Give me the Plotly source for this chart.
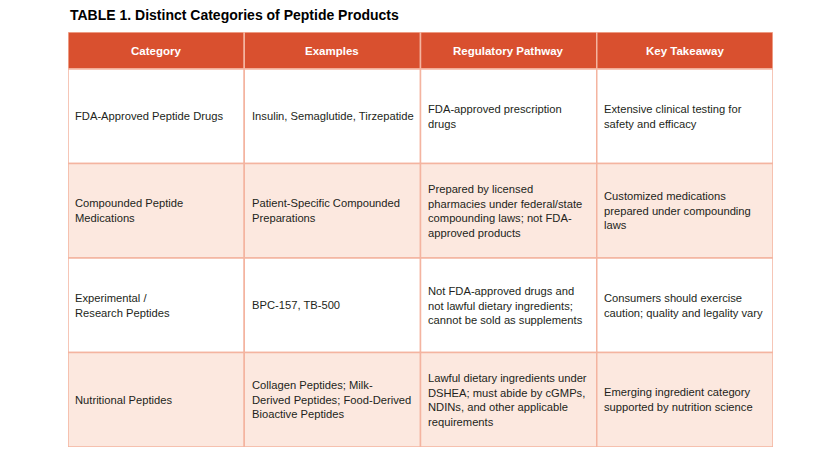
import plotly.graph_objects as go

#%% Datos de la tabla
headers = ["Category", "Examples", "Regulatory Pathway", "Key Takeaway"]

categories = [
    "FDA-Approved Peptide Drugs",
    "Compounded Peptide<br>Medications",
    "Experimental /<br>Research Peptides",
    "Nutritional Peptides",
]
examples = [
    "Insulin, Semaglutide, Tirzepatide",
    "Patient-Specific Compounded<br>Preparations",
    "BPC-157, TB-500",
    "Collagen Peptides; Milk-<br>Derived Peptides; Food-Derived<br>Bioactive Peptides",
]
pathways = [
    "FDA-approved prescription<br>drugs",
    "Prepared by licensed<br>pharmacies under federal/state<br>compounding laws; not FDA-<br>approved products",
    "Not FDA-approved drugs and<br>not lawful dietary ingredients;<br>cannot be sold as supplements",
    "Lawful dietary ingredients under<br>DSHEA; must abide by cGMPs,<br>NDINs, and other applicable<br>requirements",
]
takeaways = [
    "Extensive clinical testing for<br>safety and efficacy",
    "Customized medications<br>prepared under compounding<br>laws",
    "Consumers should exercise<br>caution; quality and legality vary",
    "Emerging ingredient category<br>supported by nutrition science",
]

columns = [categories, examples, pathways, takeaways]

#%% Estilos
HEAD_COLOR = "#D9502F"
ALT_COLOR = "#FCE8DF"
LINE_COLOR = "#F4B4A0"
TEXT_COLOR = "#231F20"
FONT = "Liberation Sans, Arial, sans-serif"

n_rows = len(categories)
n_cols = len(headers)
row_h = 94.5
head_h = 37
total_h = n_rows * row_h + head_h

fig = go.Figure()

# encabezado
for j, h in enumerate(headers):
    fig.add_shape(type="rect", x0=j, x1=j + 1, y0=total_h - head_h, y1=total_h,
                  fillcolor=HEAD_COLOR, line=dict(color=LINE_COLOR, width=1.5), layer="below")
    fig.add_annotation(x=j + 0.5, y=total_h - head_h / 2, text=f"<b>{h}</b>",
                       showarrow=False, xanchor="center", yanchor="middle",
                       font=dict(family=FONT, size=11.5, color="white"))

# filas
for i in range(n_rows):
    y1 = total_h - head_h - i * row_h
    y0 = y1 - row_h
    fill = ALT_COLOR if i % 2 == 1 else "white"
    for j in range(n_cols):
        fig.add_shape(type="rect", x0=j, x1=j + 1, y0=y0, y1=y1,
                      fillcolor=fill, line=dict(color=LINE_COLOR, width=1.5), layer="below")
        fig.add_annotation(x=j + 0.03, y=(y0 + y1) / 2, text=columns[j][i],
                           showarrow=False, xanchor="left", yanchor="middle", align="left",
                           font=dict(family=FONT, size=11.2, color=TEXT_COLOR))

# titulo
fig.add_annotation(xref="paper", yref="paper", x=0, y=1, yshift=17,
                   text="<b>TABLE 1. Distinct Categories of Peptide Products</b>",
                   showarrow=False, xanchor="left", yanchor="middle",
                   font=dict(family=FONT, size=14, color="black"))

fig.update_xaxes(range=[0, n_cols], visible=False, fixedrange=True)
fig.update_yaxes(range=[0, total_h], visible=False, fixedrange=True)
fig.update_layout(
    width=832, height=446,
    margin=dict(l=60, r=67, t=24, b=7),
    plot_bgcolor="white", paper_bgcolor="white",
    showlegend=False,
)

fig.write_html("out.html")
